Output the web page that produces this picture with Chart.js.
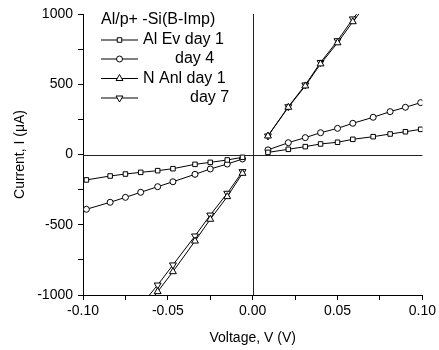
<!DOCTYPE html>
<html>
<head>
<meta charset="utf-8">
<script src="https://cdn.jsdelivr.net/npm/chart.js@4/dist/chart.umd.min.js"></script>
<style>
  html, body { margin: 0; padding: 0; background: #fff; }
  #wrap { width: 439px; height: 350px; }
</style>
</head>
<body>
<div id="wrap"><canvas id="ivChart"></canvas></div>
<script>
// voltage sweeps (V)
const vNegLow = [-0.098, -0.084, -0.075, -0.066, -0.056, -0.047, -0.034, -0.025, -0.015, -0.006];
const vPosLow = [0.009, 0.021, 0.031, 0.040, 0.050, 0.059, 0.071, 0.081, 0.090, 0.099];
const vNegHigh = [-0.066, -0.056, -0.047, -0.034, -0.025, -0.015, -0.006];
const vPosHigh = [0.009, 0.021, 0.031, 0.040, 0.050, 0.059, 0.071];

// current (uA)
const alEvDay1Neg = [-181, -153, -139, -127, -115, -101, -70, -56, -39, -20];
const alEvDay1Pos = [15, 37, 56, 75, 87, 108, 127, 146, 162, 179];
const alEvDay4Neg = [-390, -340, -305, -269, -229, -194, -141, -103, -68, -32];
const alEvDay4Pos = [33, 84, 120, 155, 186, 222, 265, 305, 336, 369];
const nAnlDay1Neg = [-1130, -976, -834, -616, -461, -300, -134];
const nAnlDay1Pos = [132, 336, 488, 645, 795, 945, 1130];
const nAnlDay7Neg = [-1075, -929, -786, -580, -431, -276, -122];
const nAnlDay7Pos = [132, 340, 495, 655, 810, 965, 1150];

const seriesLabels = ['Al Ev day 1', 'day 4', 'N Anl day 1', 'day 7'];
const legendTitle = 'Al/p+ -Si(B-Imp)';
const xTitle = 'Voltage, V (V)';
const yTitle = 'Current, I (\u03bcA)';

const FONT = '"Liberation Sans", Arial, sans-serif';

function branches(vn, iN, vp, iP) {
    const pts = vn.map((v, k) => ({ x: v, y: iN[k] }));
    pts.push({ x: 0, y: null });
    return pts.concat(vp.map((v, k) => ({ x: v, y: iP[k] })));
}

const markers = [
    { style: 'rect', radius: 3.2, rotation: 0 },
    { style: 'circle', radius: 3, rotation: 0 },
    { style: 'triangle', radius: 4, rotation: 0 },
    { style: 'triangle', radius: 4, rotation: 180 }
];

const seriesData = [
    branches(vNegLow, alEvDay1Neg, vPosLow, alEvDay1Pos),
    branches(vNegLow, alEvDay4Neg, vPosLow, alEvDay4Pos),
    branches(vNegHigh, nAnlDay1Neg, vPosHigh, nAnlDay1Pos),
    branches(vNegHigh, nAnlDay7Neg, vPosHigh, nAnlDay7Pos)
];

const datasets = seriesData.map((d, k) => ({
    label: seriesLabels[k],
    data: d,
    borderColor: '#000',
    borderWidth: 1,
    backgroundColor: '#fff',
    pointStyle: markers[k].style,
    pointRadius: markers[k].radius,
    pointRotation: markers[k].rotation,
    pointBorderWidth: 1,
    pointBorderColor: '#000',
    pointBackgroundColor: '#fff',
    spanGaps: false,
    tension: 0
}));

// zero lines through the origin
const zeroLines = {
    id: 'zeroLines',
    beforeDatasetsDraw(chart) {
        const { ctx, chartArea, scales } = chart;
        const x0 = Math.round(scales.x.getPixelForValue(0)) + 0.5;
        const y0 = Math.round(scales.y.getPixelForValue(0)) + 0.5;
        ctx.save();
        ctx.strokeStyle = '#222';
        ctx.lineWidth = 1;
        ctx.beginPath();
        ctx.moveTo(chartArea.left, y0);
        ctx.lineTo(chartArea.right, y0);
        ctx.moveTo(x0, chartArea.top);
        ctx.lineTo(x0, chartArea.bottom);
        ctx.stroke();
        ctx.restore();
    }
};

function drawMarker(ctx, m, x, y) {
    const r = m.radius;
    ctx.beginPath();
    if (m.style === 'rect') {
        const s = r * Math.SQRT1_2;
        ctx.rect(x - s, y - s, 2 * s, 2 * s);
    } else if (m.style === 'circle') {
        ctx.arc(x, y, r, 0, Math.PI * 2);
    } else {
        const dir = m.rotation === 180 ? -1 : 1;
        ctx.moveTo(x, y - dir * r);
        ctx.lineTo(x + r * 0.866, y + dir * r * 0.5);
        ctx.lineTo(x - r * 0.866, y + dir * r * 0.5);
        ctx.closePath();
    }
    ctx.fillStyle = '#fff';
    ctx.fill();
    ctx.stroke();
}

const legendBox = {
    id: 'legendBox',
    afterDatasetsDraw(chart) {
        const ctx = chart.ctx;
        const rowY = [40, 59, 78.5, 98];
        const textX = [143, 175, 143, 190];
        ctx.save();
        ctx.font = '16px ' + FONT;
        ctx.fillStyle = '#000';
        ctx.textBaseline = 'middle';
        ctx.fillText(legendTitle, 101, 20);
        ctx.strokeStyle = '#000';
        ctx.lineWidth = 1;
        seriesLabels.forEach((lab, k) => {
            const y = rowY[k];
            ctx.beginPath();
            ctx.moveTo(101, y);
            ctx.lineTo(138, y);
            ctx.stroke();
            drawMarker(ctx, markers[k], 119.5, y);
            ctx.fillStyle = '#000';
            ctx.fillText(lab, textX[k], y);
        });
        ctx.restore();
    }
};

new Chart(document.getElementById('ivChart'), {
    type: 'line',
    data: { datasets },
    options: {
        responsive: true,
        maintainAspectRatio: false,
        animation: false,
        layout: { padding: { top: 14, right: 15, left: 0, bottom: 0 } },
        plugins: {
            legend: { display: false },
            tooltip: { enabled: false }
        },
        scales: {
            x: {
                type: 'linear',
                min: -0.10,
                max: 0.10,
                afterFit(scale) { scale.height = 55; },
                border: { display: true, color: '#000', width: 1 },
                grid: { display: true, drawOnChartArea: false, drawTicks: true, tickLength: 5, color: '#000' },
                ticks: {
                    stepSize: 0.025,
                    color: '#000',
                    padding: 3,
                    maxRotation: 0,
                    autoSkip: false,
                    font: { family: FONT, size: 14 },
                    callback: function(value) {
                        const m = Math.round(value * 1000);
                        return m % 50 === 0 ? (m / 1000).toFixed(2) : '';
                    }
                },
                title: {
                    display: true,
                    text: xTitle,
                    color: '#000',
                    padding: { top: 0, bottom: 3 },
                    font: { family: FONT, size: 14 }
                }
            },
            y: {
                type: 'linear',
                min: -1000,
                max: 1000,
                afterFit(scale) { scale.width = 83; },
                border: { display: true, color: '#000', width: 1 },
                grid: { display: true, drawOnChartArea: false, drawTicks: true, tickLength: 5, color: '#000' },
                ticks: {
                    stepSize: 250,
                    color: '#000',
                    padding: 5,
                    autoSkip: false,
                    font: { family: FONT, size: 14 },
                    callback: function(value) {
                        return value % 500 === 0 ? value : '';
                    }
                },
                title: {
                    display: true,
                    text: yTitle,
                    color: '#000',
                    padding: { top: 12, bottom: 0 },
                    font: { family: FONT, size: 14 }
                }
            }
        }
    },
    plugins: [zeroLines, legendBox]
});
</script>
</body>
</html>
